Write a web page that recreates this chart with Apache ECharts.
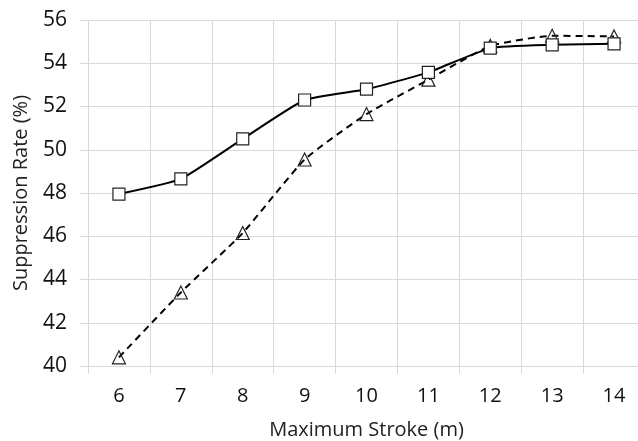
<!DOCTYPE html>
<html lang="en">
<head>
<meta charset="UTF-8">
<title>Suppression Rate vs Maximum Stroke</title>
<script src="https://cdn.jsdelivr.net/npm/echarts@6/dist/echarts.min.js"></script>
</head>
<body style="margin:0">
<div id="main" style="width:638px; height:441px;"></div>
<script>
    // data
    var strokes = ['6', '7', '8', '9', '10', '11', '12', '13', '14'];
    var solidRates = [47.95, 48.65, 50.5, 52.3, 52.8, 53.58, 54.7, 54.85, 54.9];
    var dashedRates = [40.4, 43.4, 46.15, 49.55, 51.65, 53.24, 54.8, 55.27, 55.24];

    var font = '"Open Sans", "Noto Sans", sans-serif';
    var gridColor = '#d9d9d9';

    var chart = echarts.init(document.getElementById('main'));
    chart.setOption({
        animation: false,
        backgroundColor: '#fff',
        grid: { left: 88, right: -7, top: 20, bottom: 75, outerBoundsMode: 'none', containLabel: false },
        xAxis: {
            type: 'category',
            data: strokes,
            boundaryGap: true,
            name: 'Maximum Stroke (m)',
            nameLocation: 'middle',
            nameGap: 54,
            nameTextStyle: { fontFamily: font, fontSize: 20, color: '#222' },
            axisLine: { lineStyle: { color: gridColor, width: 1 } },
            axisTick: { show: true, length: 8, lineStyle: { color: gridColor } },
            axisLabel: { fontFamily: font, fontSize: 20, color: '#111', margin: 20 },
            splitLine: { show: true, lineStyle: { color: gridColor, width: 1 } }
        },
        yAxis: {
            type: 'value',
            min: 40,
            max: 56,
            interval: 2,
            name: 'Suppression Rate (%)',
            nameLocation: 'middle',
            nameGap: 57,
            nameTextStyle: { fontFamily: font, fontSize: 20, color: '#222' },
            axisLine: { show: false },
            axisTick: { show: true, length: 8, lineStyle: { color: gridColor } },
            axisLabel: { fontFamily: font, fontSize: 21, color: '#111', margin: 21 },
            splitLine: { show: true, lineStyle: { color: gridColor, width: 1 } }
        },
        series: [{
            type: 'line',
            data: solidRates,
            smooth: 0.15,
            symbol: 'rect',
            symbolSize: 12,
            lineStyle: { color: '#000', width: 2 },
            itemStyle: { color: '#fff', borderColor: '#222', borderWidth: 1.2 },
            z: 3
        }, {
            type: 'line',
            data: dashedRates,
            smooth: 0.15,
            symbol: 'triangle',
            symbolSize: 13,
            lineStyle: { color: '#000', width: 2, type: [7, 5] },
            itemStyle: { color: 'rgba(255,255,255,0)', borderColor: '#222', borderWidth: 1.2 },
            z: 2
        }]
    });
</script>
</body>
</html>
